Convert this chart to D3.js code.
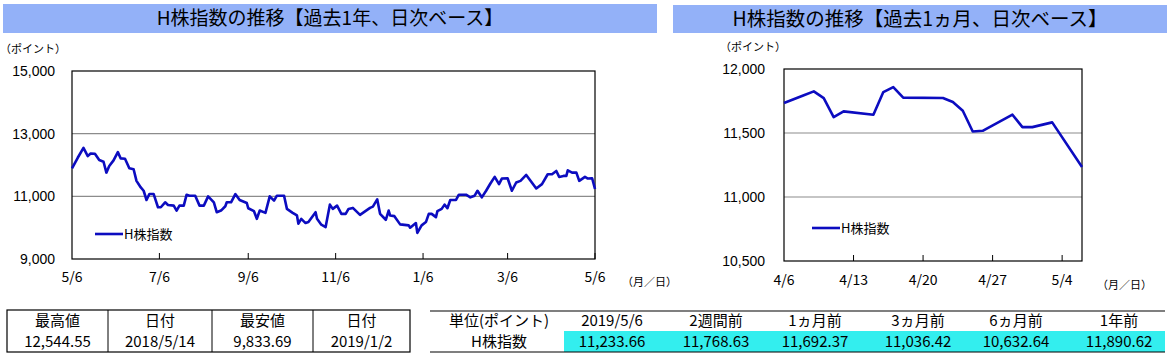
<!DOCTYPE html>
<html><head><meta charset="utf-8">
<script src="https://cdn.jsdelivr.net/npm/d3@7"></script>
<style>
body{margin:0;background:#fff;}
svg{display:block;}
text{font-family:"Noto Sans CJK JP","Noto Sans",sans-serif;fill:#000;}
.num{font-family:"Liberation Sans",Arial,sans-serif;}
</style></head><body>
<svg id="c" width="1169" height="358"></svg>
<script>
// ---- Data: past 1 year (daily) ----
const yearDates = ["2018-05-06","2018-05-10","2018-05-14","2018-05-17","2018-05-19","2018-05-22","2018-05-25","2018-05-28","2018-05-30","2018-06-01","2018-06-04","2018-06-07","2018-06-09","2018-06-12","2018-06-15","2018-06-18","2018-06-20","2018-06-23","2018-06-25","2018-06-27","2018-06-29","2018-07-02","2018-07-05","2018-07-07","2018-07-10","2018-07-12","2018-07-16","2018-07-18","2018-07-20","2018-07-23","2018-07-25","2018-07-27","2018-07-31","2018-08-03","2018-08-06","2018-08-09","2018-08-13","2018-08-15","2018-08-18","2018-08-21","2018-08-22","2018-08-25","2018-08-28","2018-08-31","2018-09-05","2018-09-06","2018-09-10","2018-09-12","2018-09-14","2018-09-18","2018-09-21","2018-09-24","2018-09-26","2018-10-01","2018-10-03","2018-10-07","2018-10-10","2018-10-11","2018-10-13","2018-10-16","2018-10-18","2018-10-23","2018-10-24","2018-10-27","2018-10-30","2018-11-02","2018-11-04","2018-11-07","2018-11-10","2018-11-13","2018-11-15","2018-11-18","2018-11-23","2018-11-30","2018-12-02","2018-12-05","2018-12-07","2018-12-11","2018-12-13","2018-12-14","2018-12-17","2018-12-21","2018-12-27","2018-12-28","2019-01-01","2019-01-02","2019-01-05","2019-01-08","2019-01-10","2019-01-12","2019-01-15","2019-01-16","2019-01-19","2019-01-21","2019-01-23","2019-01-25","2019-01-29","2019-01-31","2019-02-05","2019-02-08","2019-02-11","2019-02-13","2019-02-16","2019-02-19","2019-02-22","2019-02-25","2019-02-28","2019-03-02","2019-03-06","2019-03-09","2019-03-12","2019-03-15","2019-03-19","2019-03-22","2019-03-26","2019-03-30","2019-04-03","2019-04-06","2019-04-09","2019-04-11","2019-04-14","2019-04-16","2019-04-17","2019-04-20","2019-04-23","2019-04-25","2019-04-29","2019-05-01","2019-05-04","2019-05-06"];
const yearValues = [11890,12231,12545,12284,12368,12358,12158,12105,11757,11968,12147,12410,12210,12200,11895,11863,11494,11284,11178,10883,11073,11073,10652,10652,10810,10726,10704,10546,10704,10704,11052,11020,11020,10704,10704,10999,10810,10494,10546,10683,10810,10810,11073,10883,10788,10620,10525,10283,10546,10473,10999,10862,11020,11020,10599,10473,10389,10126,10283,10147,10178,10494,10283,10094,10020,10736,10599,10704,10441,10441,10599,10631,10410,10631,10673,10905,10441,10252,10547,10389,10368,10105,10073,9999,10147,9834,10073,10178,10441,10441,10336,10526,10600,10736,10620,10884,10884,11052,11052,10968,11020,11178,10968,11178,11410,11620,11389,11568,11578,11178,11441,11494,11683,11494,11252,11389,11705,11705,11810,11620,11652,11652,11831,11757,11757,11494,11620,11568,11578,11234];
const yearXTicks = ["2018-05-06","2018-07-06","2018-09-06","2018-11-06","2019-01-06","2019-03-06","2019-05-06"];
const yearYTicks = [9000,11000,13000,15000];

// ---- Data: past 1 month (daily) ----
const monthDates = ["2019-04-06","2019-04-08","2019-04-09","2019-04-10","2019-04-11","2019-04-12","2019-04-15","2019-04-16","2019-04-17","2019-04-18","2019-04-22","2019-04-23","2019-04-24","2019-04-25","2019-04-26","2019-04-29","2019-04-30","2019-05-01","2019-05-03","2019-05-06"];
const monthValues = [11734,11795,11825,11773,11624,11669,11643,11820,11859,11776,11773,11742,11674,11512,11517,11643,11546,11546,11583,11234];
const monthXTicks = ["2019-04-06","2019-04-13","2019-04-20","2019-04-27","2019-05-04"];
const monthYTicks = [10500,11000,11500,12000];

// ---- Tables ----
const leftHeaders = ["最高値","日付","最安値","日付"];
const leftValues = ["12,544.55","2018/5/14","9,833.69","2019/1/2"];
const rightHeaders = ["単位(ポイント)","2019/5/6","2週間前","1ヵ月前","3ヵ月前","6ヵ月前","1年前"];
const rightValues = ["H株指数","11,233.66","11,768.63","11,692.37","11,036.42","10,632.64","11,890.62"];

const titles = ["H株指数の推移【過去1年、日次ベース】","H株指数の推移【過去1ヵ月、日次ベース】"];
const seriesName = "H株指数";

const parse = d3.timeParse("%Y-%m-%d");
const fmtMD = d3.timeFormat("%-m/%-d");
const svg = d3.select("#c");
const lineColor = "#0c0cc0";
const barColor = "#93b1f8";

function chart(o){
  const g = svg.append("g");
  g.append("rect").attr("x",o.bar[0]).attr("y",o.bar[1]).attr("width",o.bar[2]).attr("height",o.bar[3]).attr("fill",barColor);
  g.append("text").attr("x",o.bar[0]+o.bar[2]/2).attr("y",o.bar[1]+o.bar[3]/2).attr("dy","0.36em")
    .attr("text-anchor","middle").attr("font-size",o.titleSize).text(o.title);

  const pts = o.dates.map((d,i)=>({d:parse(d),v:o.values[i]}));
  const x = d3.scaleTime().domain([parse(o.xTicks[0]), parse(o.xEnd)]).range([o.x0,o.x1]);
  const y = d3.scaleLinear().domain([o.yTicks[0], o.yTicks[o.yTicks.length-1]]).range([o.y1,o.y0]);

  g.append("g").selectAll("line").data(o.yTicks.slice(1,-1)).join("line")
    .attr("x1",o.x0).attr("x2",o.x1).attr("y1",d=>y(d)).attr("y2",d=>y(d))
    .attr("stroke","#8c8c8c").attr("stroke-width",1.2);
  g.append("g").selectAll("line").data(o.xTicks.slice(1)).join("line")
    .attr("x1",d=>x(parse(d))).attr("x2",d=>x(parse(d))).attr("y1",o.y1).attr("y2",o.y1-6)
    .attr("stroke","#000").attr("stroke-width",1);
  g.append("rect").attr("x",o.x0).attr("y",o.y0).attr("width",o.x1-o.x0).attr("height",o.y1-o.y0)
    .attr("fill","none").attr("stroke","#000").attr("stroke-width",1.2);
  g.append("path").datum(pts).attr("fill","none").attr("stroke",lineColor).attr("stroke-width",2.6)
    .attr("stroke-linejoin","round")
    .attr("d",d3.line().x(d=>x(d.d)).y(d=>y(d.v)));
  g.append("g").selectAll("text").data(o.yTicks).join("text").attr("class","num")
    .attr("x",o.yLabX).attr("y",d=>y(d)).attr("dy","0.36em").attr("text-anchor","end")
    .attr("font-size",14).text(d=>d3.format(",")(d));
  g.append("g").selectAll("text").data(o.xTicks).join("text")
    .attr("x",d=>x(parse(d))).attr("y",o.xLabY).attr("text-anchor","middle")
    .attr("font-size",14).text(d=>fmtMD(parse(d)));
  g.append("text").attr("x",o.unitX).attr("y",o.unitY).attr("font-size",11).text("（ポイント）");
  g.append("text").attr("x",o.dateUnitX).attr("y",o.xLabY+4).attr("font-size",11).text("（月／日）");
  g.append("line").attr("x1",o.leg[0]).attr("x2",o.leg[0]+28).attr("y1",o.leg[1]).attr("y2",o.leg[1])
    .attr("stroke",lineColor).attr("stroke-width",2.6);
  g.append("text").attr("x",o.leg[0]+29).attr("y",o.leg[1]).attr("dy","0.36em").attr("font-size",13).text(seriesName);
}

chart({title:titles[0],titleSize:19,bar:[3,4,654,29],dates:yearDates,values:yearValues,xTicks:yearXTicks,xEnd:"2019-05-06",
  yTicks:yearYTicks,x0:72,x1:595,y0:71,y1:259,yLabX:55,xLabY:282,unitX:0,unitY:53,dateUnitX:622,leg:[95,234]});
chart({title:titles[1],titleSize:19.5,bar:[673,5,494,28],dates:monthDates,values:monthValues,xTicks:monthXTicks,xEnd:"2019-05-06",
  yTicks:monthYTicks,x0:784,x1:1082,y0:69,y1:261,yLabX:765,xLabY:285,unitX:720,unitY:51,dateUnitX:1097,leg:[812,228]});

// ---- left table ----
const lt = svg.append("g");
const lCols = [7,108,212,313,410];
lt.append("rect").attr("x",lCols[0]).attr("y",310).attr("width",lCols[4]-lCols[0]).attr("height",42)
  .attr("fill","none").attr("stroke","#000").attr("stroke-width",1.2);
lt.selectAll("line.v").data(lCols.slice(1,-1)).join("line").attr("x1",d=>d).attr("x2",d=>d)
  .attr("y1",310).attr("y2",352).attr("stroke","#000").attr("stroke-width",1);
lt.selectAll("text.h").data(leftHeaders).join("text").attr("x",(d,i)=>(lCols[i]+lCols[i+1])/2)
  .attr("y",321).attr("dy","0.36em").attr("text-anchor","middle").attr("font-size",15).text(d=>d);
lt.selectAll("text.v").data(leftValues).enter().append("text").attr("x",(d,i)=>(lCols[i]+lCols[i+1])/2)
  .attr("y",342).attr("dy","0.36em").attr("text-anchor","middle").attr("font-size",15).text(d=>d);

// ---- right table ----
const rt = svg.append("g");
const rCenters = [499,612,716,815,918,1016,1119];
rt.append("rect").attr("x",564).attr("y",331).attr("width",601).attr("height",21).attr("fill","#33eeee");
rt.append("line").attr("x1",430).attr("x2",1165).attr("y1",311).attr("y2",311).attr("stroke","#000").attr("stroke-width",1.2);
rt.append("line").attr("x1",430).attr("x2",1165).attr("y1",352).attr("y2",352).attr("stroke","#000").attr("stroke-width",1.2);
rt.selectAll("text.h").data(rightHeaders).join("text").attr("x",(d,i)=>rCenters[i])
  .attr("y",321).attr("dy","0.36em").attr("text-anchor","middle").attr("font-size",15).text(d=>d);
rt.selectAll("text.v").data(rightValues).enter().append("text").attr("x",(d,i)=>rCenters[i])
  .attr("y",342).attr("dy","0.36em").attr("text-anchor","middle").attr("font-size",15).text(d=>d);
</script>
</body></html>
